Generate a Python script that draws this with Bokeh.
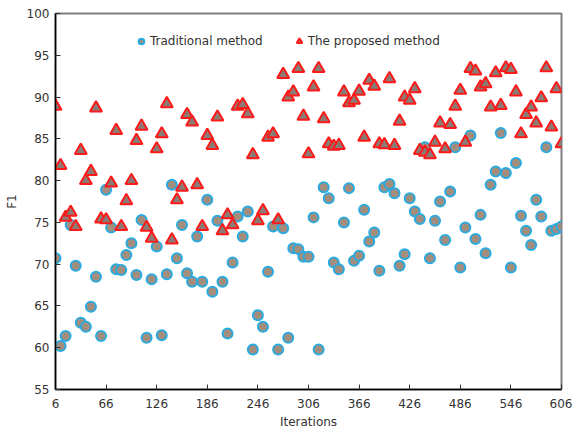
from bokeh.plotting import figure
from bokeh.models import ColumnDataSource, FixedTicker, Range1d, Legend, LegendItem
from bokeh.embed import file_html
from bokeh.resources import INLINE

iterations = list(range(6, 607, 6))

traditional = [
    70.7, 60.2, 61.4, 74.7, 69.8, 63.0, 62.5, 64.9, 68.5, 61.4, 78.9, 74.4, 69.4, 69.3, 71.1,
    72.5, 68.7, 75.3, 61.2, 68.2, 72.1, 61.5, 68.8, 79.5, 70.7, 74.7, 68.9, 67.9, 73.3,
    67.9, 77.7, 66.7, 75.2, 67.9, 61.7, 70.2, 75.7, 73.3, 76.3, 59.8, 63.9, 62.5, 69.1, 74.5,
    59.8, 74.3, 61.2, 71.9, 71.8, 70.9, 70.9, 75.6, 59.8, 79.2, 77.9, 70.2, 69.4, 75.0, 79.1,
    70.4, 71.0, 76.5, 72.7, 73.8, 69.2, 79.2, 79.6, 78.5, 69.8, 71.2, 77.9, 76.3, 75.4,
    84.0, 70.7, 75.2, 77.5, 72.9, 78.7, 84.0, 69.6, 74.4, 85.4, 73.0, 75.9, 71.3, 79.5, 81.1,
    85.7, 80.9, 69.6, 82.1, 75.8, 74.0, 72.3, 77.7, 75.7, 84.0, 74.0, 74.2, 74.5,
]

proposed = [
    88.9, 81.8, 75.6, 76.2, 74.5, 83.6, 80.0, 81.1, 88.7, 75.4, 75.3, 79.7, 86.0, 74.5, 77.6,
    80.0, 84.8, 86.5, 74.4, 73.1, 83.8, 85.6, 89.2, 72.9, 77.7, 79.2, 87.9, 87.0, 79.5,
    74.5, 85.4, 84.2, 87.6, 74.0, 75.9, 74.7, 88.9, 89.1, 88.0, 83.1, 75.2, 76.4, 85.2, 85.6,
    75.3, 92.7, 90.0, 90.6, 93.4, 87.7, 83.2, 91.2, 93.4, 87.4, 84.4, 84.1, 84.2, 90.6, 89.3,
    89.6, 90.7, 85.2, 92.0, 91.3, 84.4, 84.3, 92.2, 84.2, 87.1, 90.0, 89.6, 91.0, 83.6,
    83.4, 83.1, 84.6, 86.9, 83.8, 86.7, 88.9, 90.8, 84.6, 93.4, 93.1, 91.2, 91.6, 88.8, 92.9,
    89.0, 93.5, 93.3, 90.6, 85.6, 87.9, 88.8, 86.9, 89.9, 93.5, 86.4, 91.0, 84.4,
]

x_ticks = [6, 66, 126, 186, 246, 306, 366, 426, 486, 546, 606]
y_ticks = [55, 60, 65, 70, 75, 80, 85, 90, 95, 100]

FONT = "DejaVu Sans"

p = figure(width=572, height=434, output_backend="svg", toolbar_location=None,
           x_range=Range1d(6, 606), y_range=Range1d(55, 100),
           min_border_left=55, min_border_right=11, min_border_top=13, min_border_bottom=45)

p.xgrid.visible = False
p.ygrid.visible = False
p.outline_line_color = "#7f7f7f"
p.outline_line_width = 2
p.background_fill_color = "white"
p.border_fill_color = "white"

src_t = ColumnDataSource(dict(x=iterations, y=traditional))
src_p = ColumnDataSource(dict(x=iterations, y=proposed))

r_t = p.scatter("x", "y", source=src_t, marker="circle", size=10,
                fill_color="#a38d7d", line_color="#29abe2", line_width=2)
r_p = p.scatter("x", "y", source=src_p, marker="triangle", size=12,
                fill_color="#8a7b74", line_color="#ff1a1a", line_width=2)

for ax in (p.xaxis[0], p.yaxis[0]):
    ax.major_tick_in = 5
    ax.major_tick_out = 0
    ax.minor_tick_line_color = None
    ax.axis_line_color = "black"
    ax.axis_line_width = 1.5
    ax.major_tick_line_color = "#333333"
    ax.major_label_text_font = FONT
    ax.major_label_text_font_size = "12px"
    ax.major_label_text_color = "#333333"
    ax.axis_label_text_font = FONT
    ax.axis_label_text_font_size = "12px"
    ax.axis_label_text_font_style = "normal"
    ax.axis_label_text_color = "#333333"

p.xaxis.ticker = FixedTicker(ticks=x_ticks)
p.yaxis.ticker = FixedTicker(ticks=y_ticks)
p.xaxis.axis_label = "Iterations"
p.yaxis.axis_label = "F1"
p.xaxis.major_label_standoff = 9
p.xaxis.axis_label_standoff = 4
p.yaxis.major_label_standoff = 6
p.yaxis.axis_label_standoff = 5

legend = Legend(items=[LegendItem(label="Traditional method", renderers=[r_t]),
                       LegendItem(label="The proposed method", renderers=[r_p])],
                orientation="horizontal", location=(79, 341),
                label_text_font=FONT, label_text_font_size="12px",
                label_text_color="#333333",
                border_line_color=None, background_fill_alpha=0,
                glyph_width=14, glyph_height=14, spacing=29, margin=0,
                padding=0, label_standoff=2)
p.add_layout(legend, "center")

open("out.html", "w").write(file_html(p, INLINE))
